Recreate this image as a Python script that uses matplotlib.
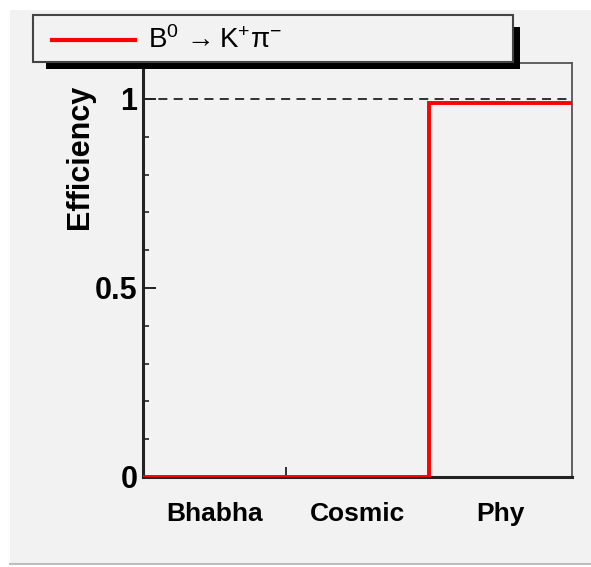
import matplotlib
matplotlib.use("Agg")
import matplotlib.pyplot as plt
from matplotlib.patches import Rectangle
from matplotlib.lines import Line2D
from matplotlib.transforms import Affine2D
from matplotlib.ticker import MultipleLocator

plt.rcParams['font.family'] = ['Liberation Sans', 'DejaVu Sans']
plt.rcParams['mathtext.fontset'] = 'custom'
plt.rcParams['mathtext.rm'] = 'Liberation Sans'
plt.rcParams['mathtext.it'] = 'Liberation Sans:italic'
plt.rcParams['mathtext.bf'] = 'Liberation Sans:bold'

# --- data ---------------------------------------------------------------
categories = ['Bhabha', 'Cosmic', 'Phy']
efficiency = [0.0, 0.0, 0.99]
bin_edges = [0, 1, 2, 3]
reference_level = 1.0
legend_label = r'$\mathregular{B^{0}\,\rightarrow K^{+}\pi^{-}}$'

W, H = 591, 567
BG = '#f2f2f2'
fig = plt.figure(figsize=(W / 100, H / 100), dpi=100, facecolor='white')

# pixel coordinates measured from the top-left corner of the canvas
px = Affine2D().scale(1 / W, -1 / H).translate(0, 1) + fig.transFigure

# canvas panel
fig.patches.append(Rectangle((10, 10), W - 10, 553, transform=px,
                             facecolor=BG, edgecolor='none', zorder=-10))
fig.lines.append(Line2D([10, W], [564, 564], transform=px,
                        color='#bdbdbd', lw=1.5, zorder=-9))

ax = fig.add_axes([143 / W, 1 - 477 / H, (572 - 143) / W, (477 - 63) / H])
ax.set_facecolor(BG)

# efficiency histogram
ax.stairs(efficiency, bin_edges, baseline=None, color='#ff0000',
          linewidth=2.8, zorder=5)
ax.axhline(reference_level, color='#222222', lw=1.3, ls=(0, (5, 3.5)), zorder=4)

ax.set_xlim(bin_edges[0], bin_edges[-1])
ax.set_ylim(0, 1.095)

# axes frame
for side in ('left', 'bottom'):
    ax.spines[side].set_linewidth(2.2)
    ax.spines[side].set_color('#222222')
for side in ('top', 'right'):
    ax.spines[side].set_linewidth(1.3)
    ax.spines[side].set_color('#555555')

# y ticks
ax.yaxis.set_minor_locator(MultipleLocator(0.1))
ax.set_yticks([0, 0.5, 1])
ax.set_yticklabels(['0', '0.5', '1'])
ax.tick_params(axis='y', which='major', direction='in', length=9.5, width=1.4,
               color='#222222', labelsize=22, pad=4)
ax.tick_params(axis='y', which='minor', direction='in', length=4.5, width=1.2,
               color='#222222')
for lab in ax.get_yticklabels():
    lab.set_fontweight('bold')

# x ticks: category names at bin centres, small ticks at inner edges
centres = [(bin_edges[i] + bin_edges[i + 1]) / 2 for i in range(len(categories))]
ax.set_xticks(centres)
ax.set_xticklabels(categories, fontsize=19, fontweight='bold')
ax.set_xticks(bin_edges[1:-1], minor=True)
ax.tick_params(axis='x', which='major', length=0, pad=18)
ax.tick_params(axis='x', which='minor', direction='in', length=7, width=1.3,
               color='#222222')

# y axis title
fig.text(80 / W, 1 - 85 / H, 'Efficiency', rotation=90, ha='center', va='top',
         fontsize=22, fontweight='bold')

# legend box with shadow
fig.patches.append(Rectangle((46, 62), 520 - 46, 7, transform=px,
                             facecolor='black', edgecolor='none', zorder=2))
fig.patches.append(Rectangle((513, 27), 7, 69 - 27, transform=px,
                             facecolor='black', edgecolor='none', zorder=2))
fig.patches.append(Rectangle((33, 15), 513 - 33, 62 - 15, transform=px,
                             facecolor=BG, edgecolor='#444444', lw=1.5, zorder=3))
fig.lines.append(Line2D([52, 135], [40, 40], transform=px, color='#ff0000',
                        lw=3, zorder=4))
fig.text(148 / W, 1 - 40 / H, legend_label, ha='left', va='center',
         fontsize=20, zorder=5)

fig.savefig('out.png', dpi=100, facecolor=fig.get_facecolor())
